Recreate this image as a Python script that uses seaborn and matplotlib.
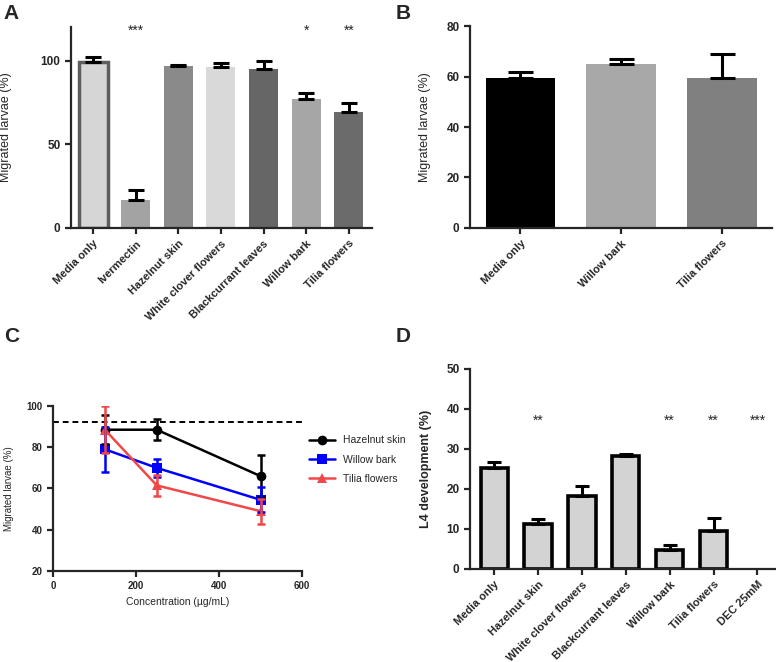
import numpy as np
import pandas as pd
import matplotlib
matplotlib.use("Agg")
import matplotlib.pyplot as plt
import seaborn as sns

# panel A
a_groups = ["Media only", "Ivermectin", "Hazelnut skin", "White clover flowers",
            "Blackcurrant leaves", "Willow bark", "Tilia flowers"]
a_values = [99, 17, 97, 96, 95, 77, 69.5]
a_err = [3, 5.5, 0.5, 2.5, 5, 3.5, 5]
a_stars = ["", "***", "", "", "", "*", "**"]
a_colors = ["#d6d6d6", "#a3a3a3", "#8a8a8a", "#d9d9d9", "#666666", "#a6a6a6", "#6b6b6b"]

# panel B
b_groups = ["Media only", "Willow bark", "Tilia flowers"]
b_values = [59.3, 65, 59.3]
b_err = [2.5, 2, 9.8]
b_colors = ["#000000", "#a8a8a8", "#808080"]

# panel C
c_conc = [125, 250, 500]
c_hazel = [88.5, 88.5, 66]
c_hazel_err = [7, 5, 10]
c_willow = [79, 70, 54.5]
c_willow_err = [11, 4.5, 6]
c_tilia = [88.5, 61.5, 49]
c_tilia_err = [11.5, 5, 6]
c_control = 92.2

# panel D
d_groups = ["Media only", "Hazelnut skin", "White clover flowers", "Blackcurrant leaves",
            "Willow bark", "Tilia flowers", "DEC 25mM"]
d_values = [25.2, 11.2, 18.2, 28.2, 4.7, 9.5, 0]
d_err = [1.5, 1.4, 2.5, 0.5, 1.2, 3.3, 0]
d_stars = ["", "**", "", "", "**", "**", "***"]

sns.set_theme(style="ticks")
plt.rcParams['font.family'] = ['Liberation Sans', 'DejaVu Sans']
plt.rcParams['axes.linewidth'] = 1.6
plt.rcParams['xtick.major.width'] = 1.6
plt.rcParams['ytick.major.width'] = 1.6
plt.rcParams['xtick.major.size'] = 4
plt.rcParams['ytick.major.size'] = 4

fig = plt.figure(figsize=(7.76, 6.62), dpi=100)
axA = fig.add_axes([0.0915, 0.6556, 0.3875, 0.3034])
axB = fig.add_axes([0.6057, 0.6556, 0.3893, 0.3051])
axC = fig.add_axes([0.0683, 0.1375, 0.3209, 0.2492])
axD = fig.add_axes([0.6057, 0.1405, 0.3930, 0.3021])


def style_bar_axes(ax, labels, fs=8):
    sns.despine(ax=ax)
    ax.set_xlabel("")
    ax.set_xticks(range(len(labels)))
    ax.set_xticklabels(labels, rotation=45, ha="right", rotation_mode="anchor",
                       fontsize=fs, fontweight="bold")
    for t in ax.get_yticklabels():
        t.set_fontweight("bold")
        t.set_fontsize(8.5)


def upper_err(ax, vals, errs, cap):
    idx = [i for i, e in enumerate(errs) if e > 0]
    ax.errorbar(idx, [vals[i] for i in idx],
                yerr=[np.zeros(len(idx)), [errs[i] for i in idx]],
                fmt="none", ecolor="black", elinewidth=2.2, capsize=cap, capthick=2.2)


# A
dfA = pd.DataFrame({"group": a_groups, "value": a_values})
sns.barplot(data=dfA, x="group", y="value", hue="group", palette=a_colors,
            width=0.68, legend=False, ax=axA, linewidth=0)
axA.patches[0].set_edgecolor("#5e5e5e")
axA.patches[0].set_linewidth(2.5)
upper_err(axA, a_values, a_err, 5.5)
for i, s in enumerate(a_stars):
    if s:
        axA.text(i, 118, s, ha="center", va="center", fontsize=10)
axA.set_ylim(0, 120)
axA.set_xlim(-0.52, 6.54)
axA.set_yticks([0, 50, 100])
axA.set_ylabel("Migrated larvae (%)", fontsize=9)
axA.yaxis.set_label_coords(-0.195, 0.5)
style_bar_axes(axA, a_groups)

# B
dfB = pd.DataFrame({"group": b_groups, "value": b_values})
sns.barplot(data=dfB, x="group", y="value", hue="group", palette=b_colors,
            width=0.69, legend=False, ax=axB, linewidth=0)
upper_err(axB, b_values, b_err, 9)
axB.set_ylim(0, 80)
axB.set_xlim(-0.5, 2.5)
axB.set_yticks([0, 20, 40, 60, 80])
axB.set_ylabel("Migrated larvae (%)", fontsize=9)
axB.yaxis.set_label_coords(-0.13, 0.5)
style_bar_axes(axB, b_groups)

# C
series = [("Hazelnut skin", c_hazel, c_hazel_err, "black", "o"),
          ("Willow bark", c_willow, c_willow_err, "#0000ff", "s"),
          ("Tilia flowers", c_tilia, c_tilia_err, "#f04848", "^")]
dfC = pd.concat([pd.DataFrame({"conc": c_conc, "value": v, "extract": n})
                 for n, v, e, c, m in series])
axC.axhline(c_control, color="black", lw=1.4, ls=(0, (3, 2)))
sns.lineplot(data=dfC, x="conc", y="value", hue="extract", style="extract",
             palette=[s[3] for s in series], markers=[s[4] for s in series],
             dashes=False, markersize=7, markeredgewidth=0, lw=1.8, ax=axC)
for n, v, e, c, m in series:
    axC.errorbar(c_conc, v, yerr=e, fmt="none", ecolor=c, elinewidth=1.8,
                 capsize=3, capthick=1.8)
axC.set_xlim(0, 600)
axC.set_ylim(20, 100)
axC.set_xticks([0, 200, 400, 600])
axC.set_yticks([20, 40, 60, 80, 100])
axC.set_xlabel("Concentration (µg/mL)", fontsize=7.5)
axC.set_ylabel("Migrated larvae (%)", fontsize=7)
axC.yaxis.set_label_coords(-0.155, 0.5)
for t in axC.get_xticklabels() + axC.get_yticklabels():
    t.set_fontweight("bold")
    t.set_fontsize(7)
sns.despine(ax=axC)
axC.legend(loc="upper left", bbox_to_anchor=(0.99, 0.88), frameon=False,
           fontsize=7.5, handlelength=2.5, labelspacing=0.9)

# D
dfD = pd.DataFrame({"group": d_groups, "value": d_values})
sns.barplot(data=dfD, x="group", y="value", color="#d3d3d3", width=0.62,
            ax=axD, edgecolor="black", linewidth=2.6)
for p, v in zip(axD.patches, d_values):
    if v == 0:
        p.set_visible(False)
upper_err(axD, d_values, d_err, 5)
for i, s in enumerate(d_stars):
    if s:
        axD.text(i, 37, s, ha="center", va="center", fontsize=10)
axD.set_ylim(0, 50)
axD.set_xlim(-0.55, 6.4)
axD.set_yticks([0, 10, 20, 30, 40, 50])
axD.set_ylabel("L4 development (%)", fontsize=9, fontweight="bold")
axD.yaxis.set_label_coords(-0.125, 0.5)
style_bar_axes(axD, d_groups)

# panel letters
for lab, x, y in [("A", 0.005, 0.965), ("B", 0.51, 0.965),
                  ("C", 0.005, 0.478), ("D", 0.51, 0.478)]:
    fig.text(x, y, lab, fontsize=15, fontweight="bold", va="bottom")

fig.savefig("out.png", dpi=100)
